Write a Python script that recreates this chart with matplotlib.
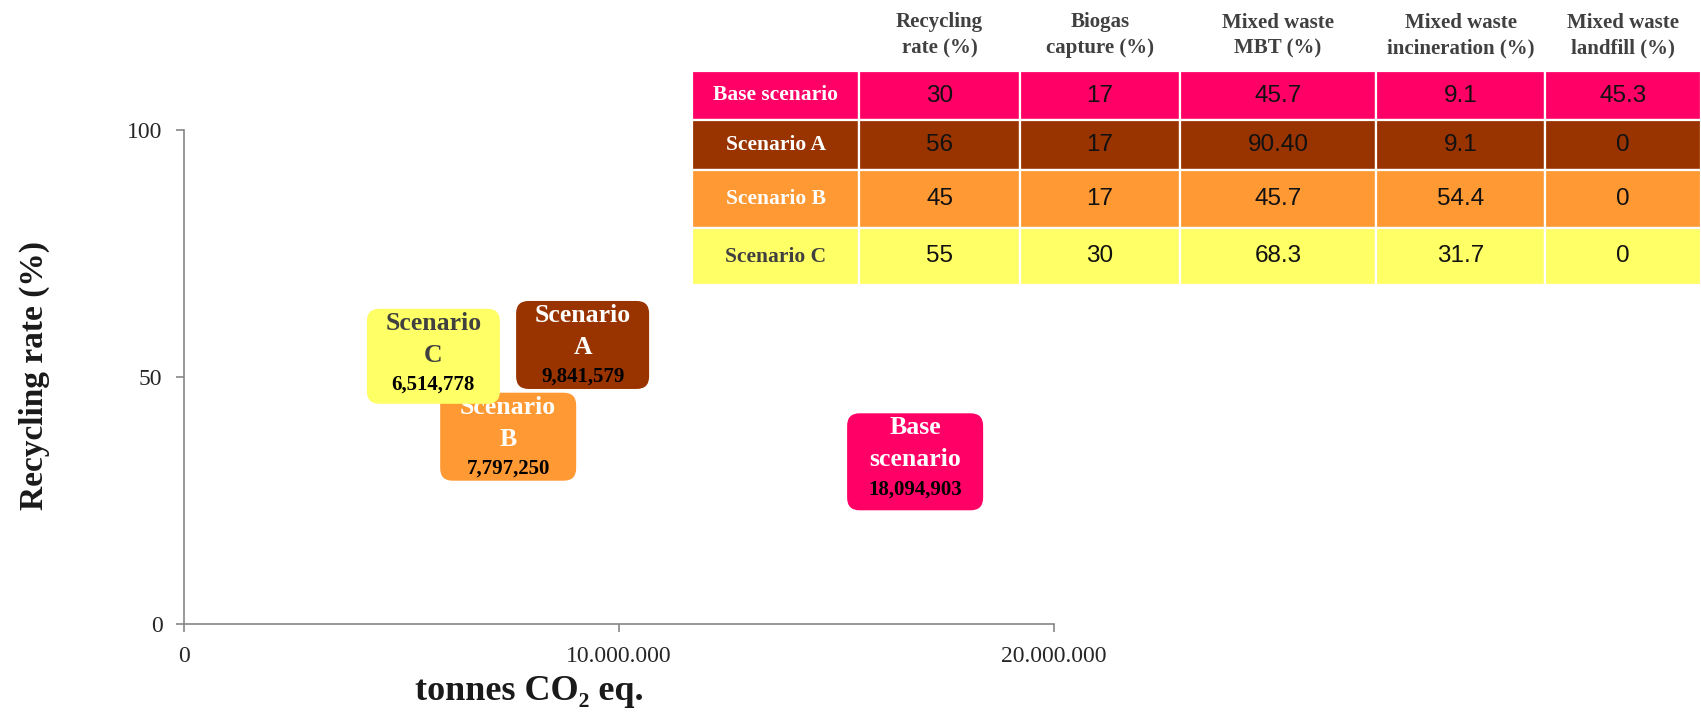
import matplotlib
matplotlib.use('Agg')
import matplotlib.pyplot as plt
from matplotlib.offsetbox import DrawingArea, AnnotationBbox
from matplotlib.patches import FancyBboxPatch
from matplotlib.text import Text
from matplotlib.ticker import FuncFormatter, FixedLocator

# ---------------- data ----------------
scenarios = ['Base scenario', 'Scenario A', 'Scenario B', 'Scenario C']
bubble_titles = ['Base\nscenario', 'Scenario\nA', 'Scenario\nB', 'Scenario\nC']
emissions_t = [18094903, 9841579, 7797250, 6514778]
recycling_rate = [30, 56, 45, 55]
biogas_capture = [17, 17, 17, 30]
mbt_share = ['45.7', '90.40', '45.7', '68.3']
incineration_share = ['9.1', '9.1', '54.4', '31.7']
landfill_share = ['45.3', '0', '0', '0']
table_columns = ['Recycling\nrate (%)', 'Biogas\ncapture (%)', 'Mixed waste\nMBT (%)',
                 'Mixed waste\nincineration (%)', 'Mixed waste\nlandfill (%)']
x_ticks = [0, 10_000_000, 20_000_000]
y_ticks = [0, 50, 100]

# ---------------- styles ----------------
colors = ['#FF0066', '#993300', '#FF9933', '#FFFF66']
title_colors = ['white', 'white', 'white', '#404040']
label_offsets_px = [(-56, 14), (-29.5, 2.4), (-15, -35), (-34, -4)]
label_sizes_px = [(136, 97), (133, 88), (136, 88), (133, 95)]
SERIF = ['Liberation Serif', 'DejaVu Serif']
SANS = ['Liberation Sans', 'DejaVu Sans']
GRAY = '#868686'

W, H = 1701, 716
fig = plt.figure(figsize=(W / 100, H / 100), dpi=100)
PT = 72 / 100  # px -> pt

# ---------------- scatter axes ----------------
ax = fig.add_axes([184 / W, 1 - 624 / H, 870 / W, 494 / H])
ax.set_xlim(0, 20_000_000)
ax.set_ylim(0, 100)
for s in ['top', 'right']:
    ax.spines[s].set_visible(False)
for s in ['left', 'bottom']:
    ax.spines[s].set_color(GRAY)
    ax.spines[s].set_linewidth(1.2)
ax.xaxis.set_major_locator(FixedLocator(x_ticks))
ax.yaxis.set_major_locator(FixedLocator(y_ticks))
ax.xaxis.set_major_formatter(FuncFormatter(lambda v, p: f"{v:,.0f}".replace(',', '.')))
ax.tick_params(axis='both', direction='out', length=5.5, width=1.2, color=GRAY,
               labelsize=17, labelcolor='#262626', pad=10)
for lab in ax.get_xticklabels() + ax.get_yticklabels():
    lab.set_family(SERIF)

ax.scatter(emissions_t, recycling_rate, s=20, c=colors, zorder=2)

for i in range(len(scenarios)):
    w_px, h_px = label_sizes_px[i]
    w, h = w_px * PT, h_px * PT
    da = DrawingArea(w, h, 0, 0, clip=False)
    da.add_artist(FancyBboxPatch((0, 0), w, h, boxstyle='round,pad=0,rounding_size=9',
                                 fc=colors[i], ec='none'))
    l1, l2 = bubble_titles[i].split('\n')
    da.add_artist(Text(w / 2, h - 21 * PT, l1, ha='center', va='baseline', fontsize=18.5,
                       fontweight='bold', color=title_colors[i], family=SERIF))
    da.add_artist(Text(w / 2, h - 53 * PT, l2, ha='center', va='baseline', fontsize=18.5,
                       fontweight='bold', color=title_colors[i], family=SERIF))
    da.add_artist(Text(w / 2, h - 81 * PT, f"{emissions_t[i]:,}", ha='center', va='baseline',
                       fontsize=15, fontweight='bold', color='black', family=SERIF))
    dx, dy = label_offsets_px[i]
    ab = AnnotationBbox(da, (emissions_t[i], recycling_rate[i]), xybox=(dx * PT, dy * PT),
                        xycoords='data', boxcoords='offset points', box_alignment=(0.5, 0.5),
                        frameon=False, pad=0, annotation_clip=False, zorder=3 + i)
    ax.add_artist(ab)

fig.text(34 / W, 1 - 376 / H, 'Recycling rate (%)', rotation=90, ha='center', va='center',
         fontsize=24, fontweight='bold', family=SERIF, color='#1a1a1a')
fig.text(529 / W, 1 - 691 / H, 'tonnes CO₂ eq.', ha='center', va='center',
         fontsize=26, fontweight='bold', family=SERIF, color='#1a1a1a')

# ---------------- table ----------------
col_w = [167, 161, 160, 196, 169, 156]
row_h = [71, 49, 50, 58, 57]
total_w, total_h = sum(col_w), sum(row_h)
tax = fig.add_axes([692 / W, 1 - 285 / H, total_w / W, 285 / H])
tax.axis('off')
rows = [[scenarios[i], str(recycling_rate[i]), str(biogas_capture[i]), mbt_share[i],
         incineration_share[i], landfill_share[i]] for i in range(len(scenarios))]
cell_colours = [[colors[i]] * 6 for i in range(len(scenarios))]
tbl = tax.table(cellText=rows, colLabels=[''] + table_columns,
                cellColours=cell_colours, cellLoc='center', colLoc='center',
                bbox=[0, 0, 1, 1])
tbl.auto_set_font_size(False)
for (r, c), cell in tbl.get_celld().items():
    cell.set_width(col_w[c] / total_w)
    cell.set_height(row_h[r] / total_h)
    cell.set_edgecolor('white')
    cell.set_linewidth(1.6)
    t = cell.get_text()
    if r == 0:
        cell.set_facecolor('white')
        cell.visible_edges = ''
        t.set_fontsize(15)
        t.set_fontweight('bold')
        t.set_family(SERIF)
        t.set_color('#404040')
        t.set_linespacing(1.4)
    elif c == 0:
        t.set_fontsize(15.5)
        t.set_fontweight('bold')
        t.set_family(SERIF)
        t.set_color(title_colors[r - 1])
    else:
        t.set_fontsize(17.5)
        t.set_family(SANS)
        t.set_color('#111111')

fig.savefig('out.png', dpi=100)
